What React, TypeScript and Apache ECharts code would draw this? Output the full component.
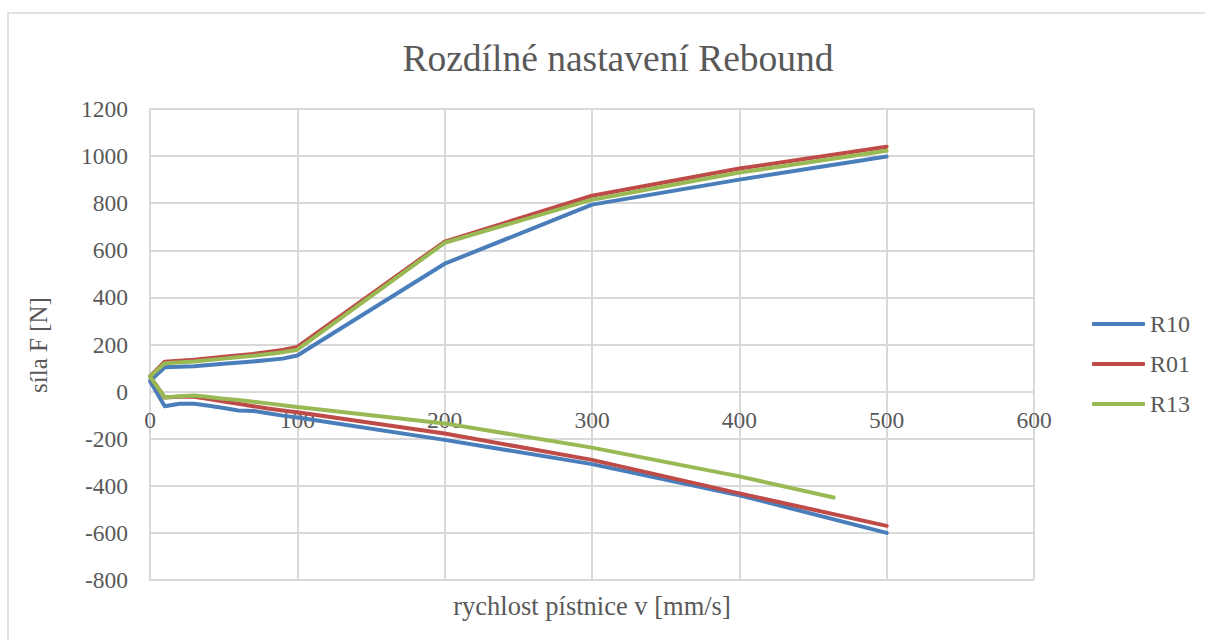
import React, { useEffect, useRef } from "react";
import * as echarts from "echarts";

const seriesNames = ["R10", "R01", "R13"];
const colors = ["#4A7EBB", "#BE4B48", "#98B954"];

// lower branch (x from high to 0)
const vLow10 = [500, 400, 300, 200, 100, 90, 80, 70, 60, 50, 40, 30, 20, 10, 0];
const fLow10 = [-600, -440, -308, -205, -110, -102, -92, -82, -80, -70, -60, -52, -52, -62, 45];
const vLow01 = [500, 400, 300, 200, 100, 90, 80, 70, 60, 50, 40, 30, 20, 10, 0];
const fLow01 = [-570, -432, -290, -178, -88, -80, -72, -62, -52, -42, -32, -22, -22, -25, 64];
const vLow13 = [464, 400, 300, 200, 100, 90, 80, 70, 60, 50, 40, 30, 20, 10, 0];
const fLow13 = [-450, -360, -238, -135, -65, -58, -50, -43, -36, -30, -23, -17, -20, -25, 64];

// upper branch (x from 0 to high)
const vUp = [0, 10, 30, 50, 70, 90, 100, 200, 300, 400, 500];
const fUp10 = [45, 103, 108, 118, 128, 140, 153, 543, 794, 900, 998];
const fUp01 = [64, 127, 135, 148, 160, 177, 190, 637, 832, 947, 1040];
const fUp13 = [64, 120, 128, 140, 152, 167, 178, 632, 815, 930, 1023];

const xTicks = { min: 0, max: 600, interval: 100 };
const yTicks = { min: -800, max: 1200, interval: 200 };

const titleText = "Rozdílné nastavení Rebound";
const xName = "rychlost pístnice v [mm/s]";
const yName = "síla F [N]";

function pairs(xs: number[], ys: number[]) {
  return xs.map((x, i) => [x, ys[i]]);
}

const FONT = "'Liberation Serif', 'Times New Roman', serif";
const GRAY = "#595959";

export default function App() {
  const ref = useRef<HTMLDivElement>(null);
  useEffect(() => {
    if (!ref.current) return;
    const chart = echarts.init(ref.current, null, { renderer: "svg" });
    const data = [
      [...pairs(vLow10, fLow10), ...pairs(vUp, fUp10)],
      [...pairs(vLow01, fLow01), ...pairs(vUp, fUp01)],
      [...pairs(vLow13, fLow13), ...pairs(vUp, fUp13)],
    ];
    chart.setOption({
      animation: false,
      backgroundColor: "#ffffff",
      textStyle: { fontFamily: FONT },
      title: {
        text: titleText,
        top: 34,
        left: 613,
        textAlign: "center",
        textStyle: { fontFamily: FONT, fontSize: 37.5, fontWeight: "normal", color: GRAY },
      },
      legend: {
        orient: "vertical",
        left: 1087,
        top: 307,
        itemWidth: 53,
        itemHeight: 4,
        itemGap: 16,
        icon: "roundRect",
        textStyle: { fontFamily: FONT, fontSize: 24, color: GRAY },
        data: seriesNames,
      },
      graphic: [
        {
          type: "rect",
          shape: { x: 8, y: 13, width: 1400, height: 800 },
          style: { fill: "none", stroke: "#d9d9d9", lineWidth: 1.5 },
          silent: true,
        },
        {
          type: "text",
          x: 592,
          y: 606,
          style: {
            text: xName,
            fontFamily: FONT,
            fontSize: 26.5,
            fill: GRAY,
            textAlign: "center",
            textVerticalAlign: "middle",
          },
        },
        {
          type: "text",
          x: 38,
          y: 345,
          rotation: Math.PI / 2,
          style: {
            text: yName,
            fontFamily: FONT,
            fontSize: 25,
            fill: GRAY,
            textAlign: "center",
            textVerticalAlign: "middle",
          },
        },
      ],
      grid: { left: 150, right: 171, top: 109, bottom: 60, containLabel: false },
      xAxis: {
        type: "value",
        min: xTicks.min,
        max: xTicks.max,
        interval: xTicks.interval,
        offset: -188,
        axisLine: { show: false, onZero: false },
        axisTick: { show: false },
        axisLabel: {
          fontFamily: FONT,
          fontSize: 23.5,
          color: GRAY,
          margin: 16,
          formatter: (v: number) => String(v),
        },
        splitLine: { show: true, lineStyle: { color: "#d9d9d9", width: 2 } },
      },
      yAxis: {
        type: "value",
        min: yTicks.min,
        max: yTicks.max,
        interval: yTicks.interval,
        axisLine: { show: true, lineStyle: { color: "#d9d9d9", width: 2 } },
        axisTick: { show: false },
        axisLabel: {
          fontFamily: FONT,
          fontSize: 23.5,
          color: GRAY,
          margin: 22,
          formatter: (v: number) => String(v),
        },
        splitLine: { show: true, lineStyle: { color: "#d9d9d9", width: 2 } },
      },
      series: seriesNames.map((name, i) => ({
        name,
        type: "line",
        data: data[i],
        showSymbol: false,
        symbol: "none",
        lineStyle: { width: 4, color: colors[i], cap: "round", join: "round" },
        itemStyle: { color: colors[i] },
      })),
    });
    return () => chart.dispose();
  }, []);
  return (
    <div
      ref={ref}
      style={{ position: "absolute", left: 0, top: 0, width: 1205, height: 640 }}
    />
  );
}
